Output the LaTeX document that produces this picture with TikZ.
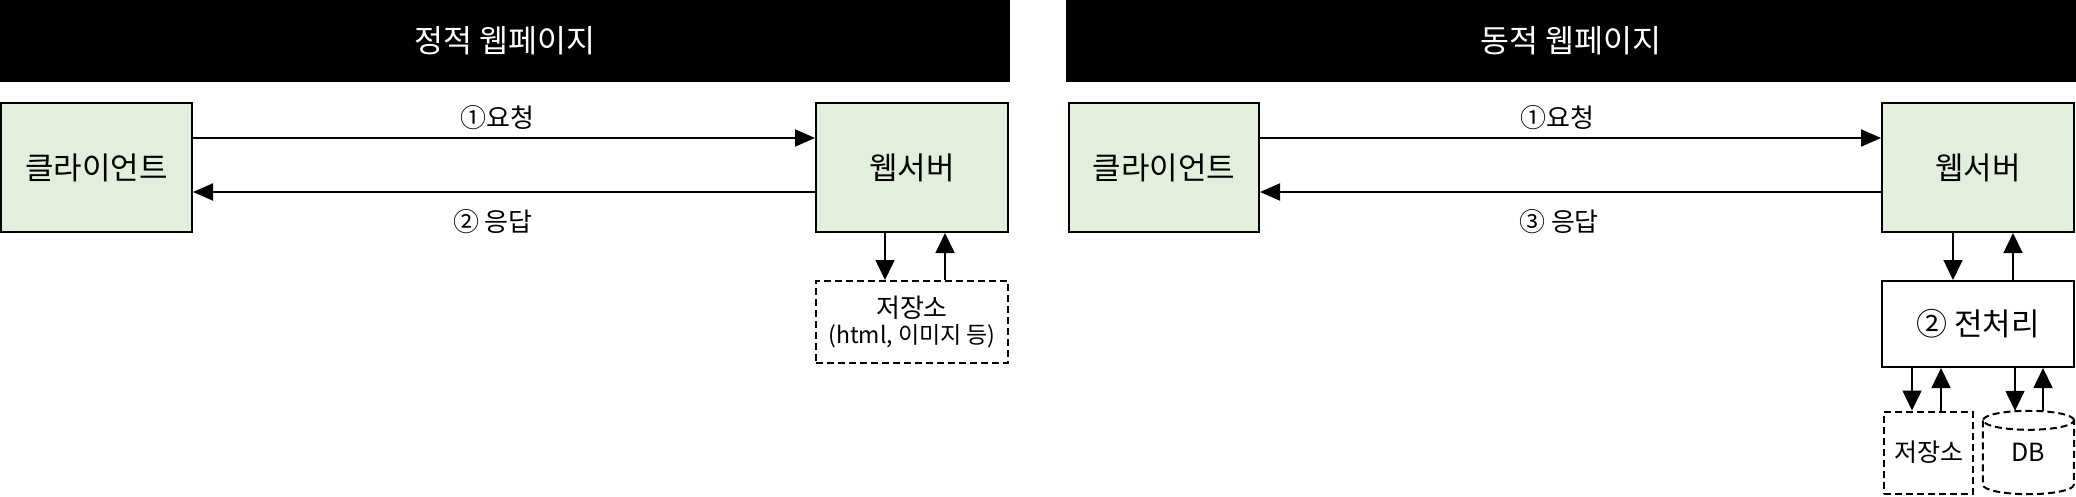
\documentclass[tikz,border=0pt]{standalone}
\usepackage{fontspec}
\setmainfont{Noto Sans CJK KR}
\usetikzlibrary{arrows.meta}
\definecolor{boxgreen}{HTML}{E2EFDA}
\begin{document}
\begin{tikzpicture}[x=1pt,y=1pt,
  header/.style={fill=black,text=white,minimum width=1010pt,minimum height=82pt,inner sep=0pt,font=\fontsize{31.5}{36}\selectfont},
  greenbox/.style={draw=black,line width=2pt,fill=boxgreen,minimum height=129pt,inner sep=0pt,font=\fontsize{31}{36}\selectfont},
  whitebox/.style={draw=black,line width=2pt,fill=white,inner sep=0pt,font=\fontsize{31}{36}\selectfont},
  dashbox/.style={draw=black,line width=2pt,dash pattern=on 7pt off 4pt,inner sep=0pt,font=\fontsize{26}{30}\selectfont},
  lbl/.style={inner sep=0pt,font=\fontsize{26}{30}\selectfont},
  arr/.style={line width=2pt,-{Triangle[length=20pt,width=17pt]}},
  varr/.style={line width=1.6pt,-{Triangle[length=20pt,width=19pt]}}
]
\useasboundingbox (0,0) rectangle (2076,496);

% headers
\node[header] (hL) at (505,455) {정적 웹페이지};
\node[header] (hR) at (1571,455) {동적 웹페이지};

% left: static
\node[greenbox,minimum width=191pt] (cL) at (96.5,328.5) {클라이언트};
\node[greenbox,minimum width=192pt] (wL) at (912,328.5) {웹서버};
\node[dashbox,minimum width=192pt,minimum height=82pt,align=center] (sL) at (912,174)
  {저장소\\[-4pt]{\fontsize{23}{26}\selectfont(html, 이미지 등)}};

\draw[arr] ([yshift=29.5pt]cL.east) -- ([yshift=29.5pt]cL.east -| wL.west);
\draw[arr] ([yshift=-24.5pt]wL.west) -- ([yshift=-24.5pt]wL.west -| cL.east);
\node[lbl] (l1L) at (497,378) {①요청};
\node[lbl] (l2L) at (493,274) {② 응답};

\draw[varr] ([xshift=-27pt]wL.south) -- ([xshift=-27pt]sL.north);
\draw[varr] ([xshift=33pt]sL.north) -- ([xshift=33pt]wL.south);

% right: dynamic
\node[greenbox,minimum width=190pt] (cR) at (1164,328.5) {클라이언트};
\node[greenbox,minimum width=192pt] (wR) at (1978,328.5) {웹서버};
\node[whitebox,minimum width=192pt,minimum height=86pt] (pR) at (1978,172) {② 전처리};
\node[dashbox,minimum width=89pt,minimum height=82pt,font=\fontsize{25}{30}\selectfont] (sR) at (1928.5,43.5) {저장소};
\node[inner sep=0pt,minimum width=91pt,minimum height=83pt,font=\fontsize{25}{28}\selectfont] (db) at (2028.5,43.5) {DB};
\draw[line width=2pt,dash pattern=on 7pt off 4pt]
  ([yshift=-9.5pt]db.north west) -- ([yshift=9.5pt]db.south west)
  arc[start angle=180,end angle=360,x radius=45.5pt,y radius=9.5pt]
  -- ([yshift=-9.5pt]db.north east);
\draw[line width=2pt,dash pattern=on 7pt off 4pt]
  ([yshift=-9.5pt]db.north) ellipse[x radius=45.5pt,y radius=9.5pt];

\draw[arr] ([yshift=29.5pt]cR.east) -- ([yshift=29.5pt]cR.east -| wR.west);
\draw[arr] ([yshift=-24.5pt]wR.west) -- ([yshift=-24.5pt]wR.west -| cR.east);
\node[lbl] (l1R) at (1557,378) {①요청};
\node[lbl] (l2R) at (1559,274) {③ 응답};

\draw[varr] ([xshift=-25pt]wR.south) -- ([xshift=-25pt]pR.north);
\draw[varr] ([xshift=35pt]pR.north) -- ([xshift=35pt]wR.south);
\draw[varr] ([xshift=-16.5pt]sR.north |- pR.south) -- ([xshift=-16.5pt]sR.north);
\draw[varr] ([xshift=12.5pt]sR.north) -- ([xshift=12.5pt]sR.north |- pR.south);
\draw[varr] ([xshift=-13.5pt]db.north |- pR.south) -- ([xshift=-13.5pt]db.north);
\draw[varr] ([xshift=14.5pt]db.north) -- ([xshift=14.5pt]db.north |- pR.south);
\end{tikzpicture}
\end{document}
